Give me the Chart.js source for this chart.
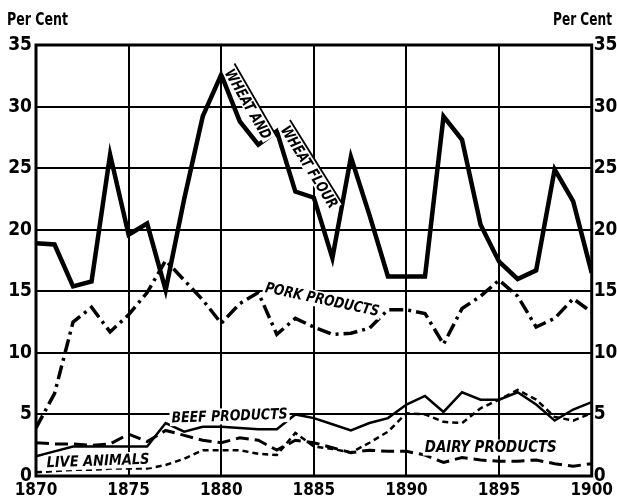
<!DOCTYPE html>
<html><head><meta charset="utf-8">
<script src="https://cdn.jsdelivr.net/npm/chart.js@4.4.0/dist/chart.umd.min.js"></script>
<style>html,body{margin:0;padding:0;background:#fff}canvas{display:block}</style>
</head><body>
<canvas id="c" width="617" height="500"></canvas>
<script>
const years = [1870,1871,1872,1873,1874,1875,1876,1877,1878,1879,1880,1881,1882,1883,1884,1885,1886,1887,1888,1889,1890,1891,1892,1893,1894,1895,1896,1897,1898,1899,1900];
const wheat = [18.9,18.8,15.4,15.8,26.1,19.6,20.5,15.1,22.5,29.2,32.6,28.8,26.9,28.0,23.1,22.6,17.7,25.9,21.2,16.2,16.2,16.2,29.2,27.3,20.4,17.4,16.0,16.7,24.9,22.3,16.5];
const pork = [3.9,6.7,12.5,13.7,11.7,13.1,14.9,17.5,15.9,14.3,12.4,14.0,14.9,11.5,12.8,12.1,11.5,11.6,12.0,13.5,13.5,13.2,10.7,13.6,14.6,15.9,14.6,12.1,12.8,14.4,13.3];
const beef = [1.6,2.0,2.4,2.4,2.4,2.4,2.4,4.3,3.6,4.0,4.0,3.9,3.8,3.8,5.0,4.7,4.2,3.7,4.3,4.7,5.8,6.5,5.2,6.8,6.2,6.2,6.8,5.8,4.5,5.4,6.0];
const dairy = [2.7,2.6,2.6,2.5,2.6,3.4,2.8,3.7,3.3,2.9,2.7,3.1,2.9,2.1,2.9,2.7,2.3,1.9,2.1,2.0,2.0,1.7,1.1,1.5,1.3,1.2,1.2,1.3,1.0,0.8,1.0];
const live = [0.3,0.4,0.5,0.5,0.6,0.6,0.6,0.9,1.4,2.1,2.1,2.1,1.8,1.7,3.5,2.4,2.2,1.9,2.7,3.6,5.1,5.0,4.4,4.3,5.5,6.2,7.0,6.2,4.8,4.5,5.1];
const yTicks = [0,5,10,15,20,25,30,35];
const xTicks = [1870,1875,1880,1885,1890,1895,1900];
const unitLabel = 'Per Cent';
const seriesLabels = ['WHEAT AND','WHEAT FLOUR','PORK PRODUCTS','BEEF PRODUCTS','LIVE ANIMALS','DAIRY PRODUCTS'];

const pts = arr => arr.map((v,i)=>({x:years[i], y:v}));
const tickFont = {family:"'Liberation Sans Narrow','DejaVu Sans Condensed',sans-serif", size:19, weight:'bold'};

// annotation anchors (in data units), rotation in degrees, target text width in px
const notes = [
  {t:seriesLabels[0], x:1881.45, y:30.2, rot:60, w:78, size:15, ribbon:true},
  {t:seriesLabels[1], x:1884.75, y:25.1, rot:58, w:94, size:15, ribbon:true},
  {t:seriesLabels[2], x:1885.45, y:14.35, rot:12, w:116, size:15},
  {t:seriesLabels[3], x:1880.45, y:4.9, rot:-2, w:116, size:15},
  {t:seriesLabels[4], x:1873.35, y:1.25, rot:-2, w:103, size:15},
  {t:seriesLabels[5], x:1894.55, y:2.35, rot:0, w:132, size:15}
];

const decor = {
  id:'decor',
  afterDatasetsDraw(chart){
    const ctx = chart.ctx, a = chart.chartArea;
    const xs = chart.scales.x, ys = chart.scales.y;
    ctx.save();
    ctx.strokeStyle = '#000'; ctx.lineWidth = 3;
    ctx.strokeRect(a.left, a.top, a.right-a.left, a.bottom-a.top);
    notes.forEach(n=>{
      const px = xs.getPixelForValue(n.x), py = ys.getPixelForValue(n.y);
      ctx.save();
      ctx.translate(px, py);
      ctx.rotate(n.rot*Math.PI/180);
      ctx.font = `italic bold ${n.size}px 'DejaVu Sans Condensed','Liberation Sans Narrow',sans-serif`;
      const m = ctx.measureText(n.t).width;
      const h = n.size + 2;
      ctx.fillStyle = '#fff';
      if (n.ribbon){
        ctx.fillRect(-n.w/2-2, -h/2, n.w+4, h-2);
        ctx.strokeStyle='#000';
        ctx.lineWidth = 1.8;
        ctx.beginPath(); ctx.moveTo(-n.w/2-3, -h/2); ctx.lineTo(n.w/2+4, -h/2); ctx.stroke();
      } else {
        ctx.fillRect(-n.w/2-2, -h/2+1, n.w+4, h-1);
      }
      ctx.scale(n.w/m, 1);
      ctx.fillStyle = '#000';
      ctx.textAlign = 'center'; ctx.textBaseline = 'middle';
      ctx.fillText(n.t, 0, 1);
      ctx.restore();
    });
    ctx.restore();
  },
  afterDraw(chart){
    const ctx = chart.ctx;
    ctx.save();
    ctx.font = "bold 17px 'Liberation Sans Narrow','DejaVu Sans Condensed',sans-serif";
    ctx.fillStyle = '#000'; ctx.textBaseline = 'middle';
    const m = ctx.measureText(unitLabel).width;
    ctx.save(); ctx.translate(7, 21); ctx.scale(61/m,1); ctx.textAlign='left'; ctx.fillText(unitLabel,0,0); ctx.restore();
    ctx.save(); ctx.translate(612, 21); ctx.scale(59/m,1); ctx.textAlign='right'; ctx.fillText(unitLabel,0,0); ctx.restore();
    ctx.restore();
  }
};

const setTicks = list => s => { s.ticks = list.map(v=>({value:v})); };

new Chart(document.getElementById('c'), {
  type:'line',
  data:{datasets:[
    {data:pts(wheat), borderColor:'#000', borderWidth:4.5, yAxisID:'y'},
    {data:pts(pork), borderColor:'#000', borderWidth:3.5, borderDash:[14,5,3,5], yAxisID:'y'},
    {data:pts(beef), borderColor:'#000', borderWidth:2.5, yAxisID:'y'},
    {data:pts(dairy), borderColor:'#000', borderWidth:3, borderDash:[13,6], yAxisID:'y'},
    {data:pts(live), borderColor:'#000', borderWidth:2.5, borderDash:[6,4], yAxisID:'y'}
  ]},
  options:{
    responsive:false, animation:false,
    layout:{padding:{top:45,left:0,right:0,bottom:0}},
    elements:{point:{radius:0}, line:{tension:0, borderCapStyle:'butt', borderJoinStyle:'miter'}},
    plugins:{legend:{display:false}, tooltip:{enabled:false}},
    scales:{
      x:{type:'linear', min:1870, max:1900, afterBuildTicks:setTicks(xTicks),
         ticks:{font:{...tickFont, size:17}, color:'#000', padding:4, maxRotation:0, autoSkip:false, callback:v=>String(v)},
         grid:{color:'#000', lineWidth:2, drawTicks:false}, border:{display:false},
         afterFit:s=>{s.height=24;}},
      y:{position:'left', min:0, max:35, afterBuildTicks:setTicks(yTicks),
         ticks:{font:tickFont, color:'#000', padding:4, autoSkip:false},
         grid:{color:'#000', lineWidth:2, drawTicks:false}, border:{display:false},
         afterFit:s=>{s.width=36;}},
      y2:{position:'right', min:0, max:35, afterBuildTicks:setTicks(yTicks),
         ticks:{font:tickFont, color:'#000', padding:2, autoSkip:false},
         grid:{display:false, drawTicks:false}, border:{display:false},
         afterFit:s=>{s.width=25;}}
    }
  },
  plugins:[decor]
});
</script>
</body></html>
